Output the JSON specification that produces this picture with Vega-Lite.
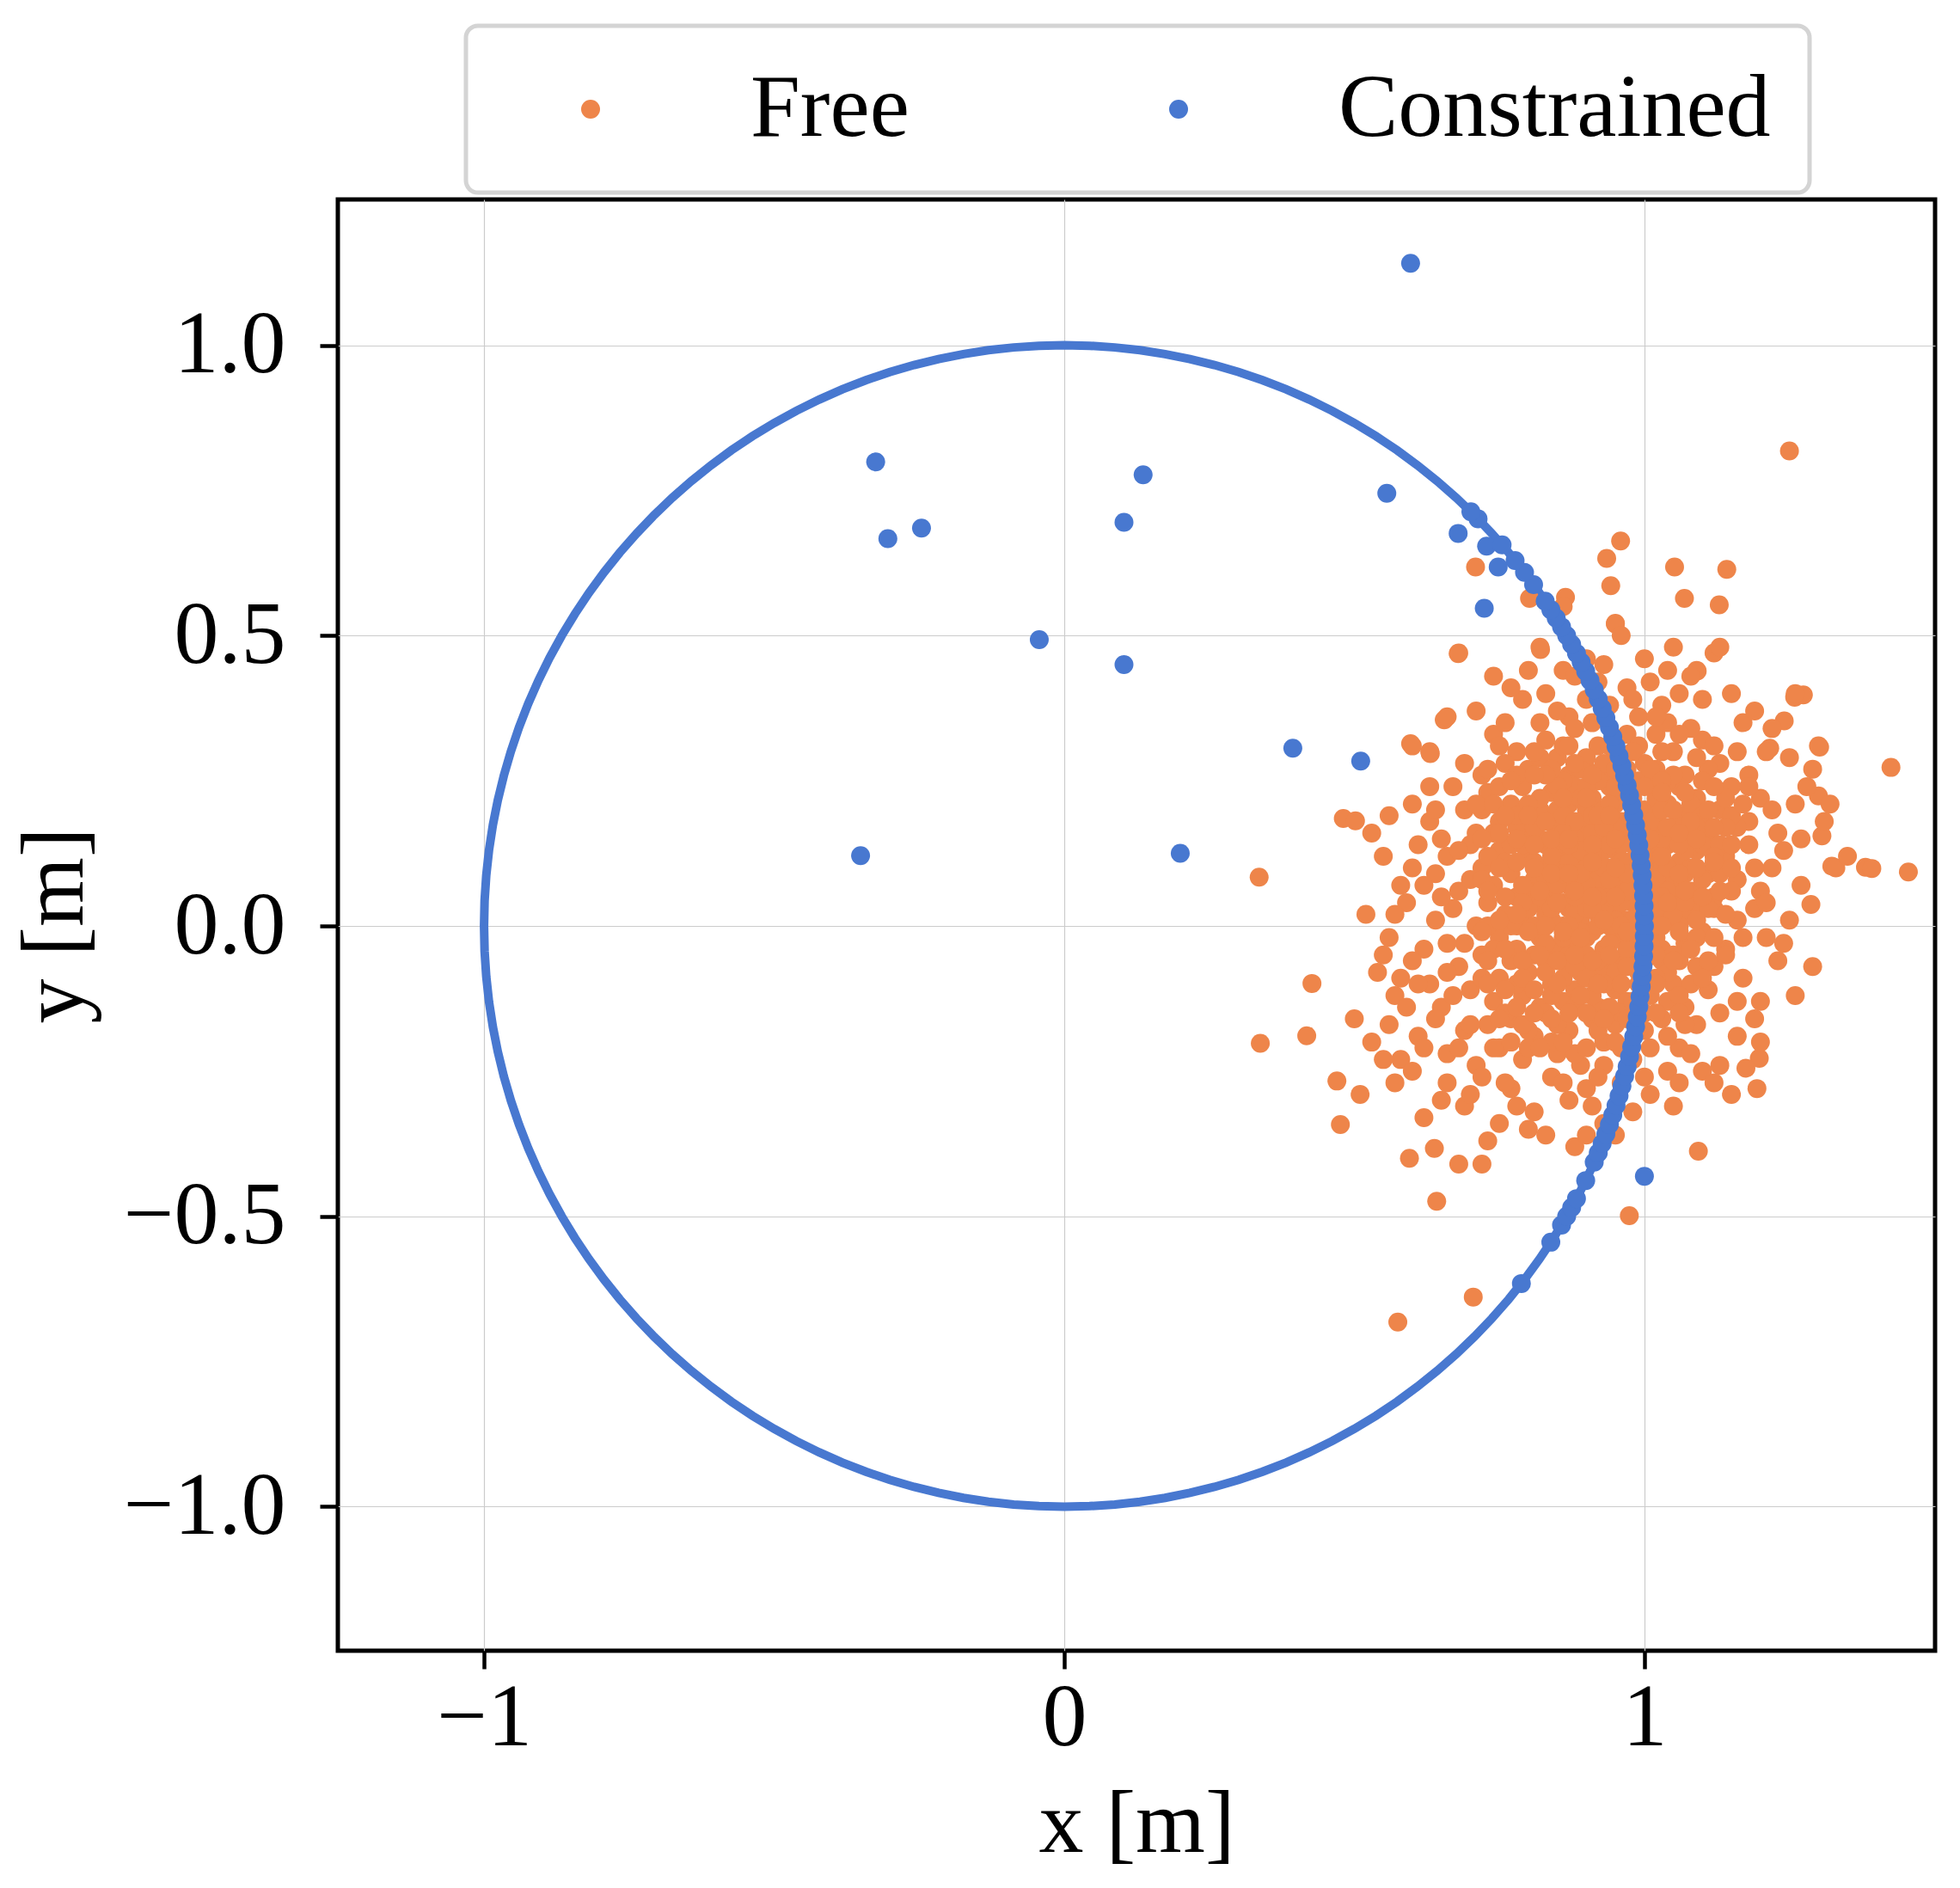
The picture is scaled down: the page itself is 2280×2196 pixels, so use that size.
{
  "$schema": "https://vega.github.io/schema/vega-lite/v6.json",
  "width": 1858,
  "height": 1688,
  "autosize": "none",
  "padding": {"left": 393, "top": 232, "right": 29, "bottom": 276},
  "background": "white",
  "datasets": {
    "circle": [
      {"a":0,"x":1,"y":0},{"a":2.5,"x":0.99905,"y":0.04362},{"a":5,"x":0.99619,"y":0.08716},{"a":7.5,"x":0.99144,"y":0.13053},
      {"a":10,"x":0.98481,"y":0.17365},{"a":12.5,"x":0.9763,"y":0.21644},{"a":15,"x":0.96593,"y":0.25882},{"a":17.5,"x":0.95372,"y":0.30071},
      {"a":20,"x":0.93969,"y":0.34202},{"a":22.5,"x":0.92388,"y":0.38268},{"a":25,"x":0.90631,"y":0.42262},{"a":27.5,"x":0.88701,"y":0.46175},
      {"a":30,"x":0.86603,"y":0.5},{"a":32.5,"x":0.84339,"y":0.5373},{"a":35,"x":0.81915,"y":0.57358},{"a":37.5,"x":0.79335,"y":0.60876},
      {"a":40,"x":0.76604,"y":0.64279},{"a":42.5,"x":0.73728,"y":0.67559},{"a":45,"x":0.70711,"y":0.70711},{"a":47.5,"x":0.67559,"y":0.73728},
      {"a":50,"x":0.64279,"y":0.76604},{"a":52.5,"x":0.60876,"y":0.79335},{"a":55,"x":0.57358,"y":0.81915},{"a":57.5,"x":0.5373,"y":0.84339},
      {"a":60,"x":0.5,"y":0.86603},{"a":62.5,"x":0.46175,"y":0.88701},{"a":65,"x":0.42262,"y":0.90631},{"a":67.5,"x":0.38268,"y":0.92388},
      {"a":70,"x":0.34202,"y":0.93969},{"a":72.5,"x":0.30071,"y":0.95372},{"a":75,"x":0.25882,"y":0.96593},{"a":77.5,"x":0.21644,"y":0.9763},
      {"a":80,"x":0.17365,"y":0.98481},{"a":82.5,"x":0.13053,"y":0.99144},{"a":85,"x":0.08716,"y":0.99619},{"a":87.5,"x":0.04362,"y":0.99905},
      {"a":90,"x":0,"y":1},{"a":92.5,"x":-0.04362,"y":0.99905},{"a":95,"x":-0.08716,"y":0.99619},{"a":97.5,"x":-0.13053,"y":0.99144},
      {"a":100,"x":-0.17365,"y":0.98481},{"a":102.5,"x":-0.21644,"y":0.9763},{"a":105,"x":-0.25882,"y":0.96593},{"a":107.5,"x":-0.30071,"y":0.95372},
      {"a":110,"x":-0.34202,"y":0.93969},{"a":112.5,"x":-0.38268,"y":0.92388},{"a":115,"x":-0.42262,"y":0.90631},{"a":117.5,"x":-0.46175,"y":0.88701},
      {"a":120,"x":-0.5,"y":0.86603},{"a":122.5,"x":-0.5373,"y":0.84339},{"a":125,"x":-0.57358,"y":0.81915},{"a":127.5,"x":-0.60876,"y":0.79335},
      {"a":130,"x":-0.64279,"y":0.76604},{"a":132.5,"x":-0.67559,"y":0.73728},{"a":135,"x":-0.70711,"y":0.70711},{"a":137.5,"x":-0.73728,"y":0.67559},
      {"a":140,"x":-0.76604,"y":0.64279},{"a":142.5,"x":-0.79335,"y":0.60876},{"a":145,"x":-0.81915,"y":0.57358},{"a":147.5,"x":-0.84339,"y":0.5373},
      {"a":150,"x":-0.86603,"y":0.5},{"a":152.5,"x":-0.88701,"y":0.46175},{"a":155,"x":-0.90631,"y":0.42262},{"a":157.5,"x":-0.92388,"y":0.38268},
      {"a":160,"x":-0.93969,"y":0.34202},{"a":162.5,"x":-0.95372,"y":0.30071},{"a":165,"x":-0.96593,"y":0.25882},{"a":167.5,"x":-0.9763,"y":0.21644},
      {"a":170,"x":-0.98481,"y":0.17365},{"a":172.5,"x":-0.99144,"y":0.13053},{"a":175,"x":-0.99619,"y":0.08716},{"a":177.5,"x":-0.99905,"y":0.04362},
      {"a":180,"x":-1,"y":0},{"a":182.5,"x":-0.99905,"y":-0.04362},{"a":185,"x":-0.99619,"y":-0.08716},{"a":187.5,"x":-0.99144,"y":-0.13053},
      {"a":190,"x":-0.98481,"y":-0.17365},{"a":192.5,"x":-0.9763,"y":-0.21644},{"a":195,"x":-0.96593,"y":-0.25882},{"a":197.5,"x":-0.95372,"y":-0.30071},
      {"a":200,"x":-0.93969,"y":-0.34202},{"a":202.5,"x":-0.92388,"y":-0.38268},{"a":205,"x":-0.90631,"y":-0.42262},{"a":207.5,"x":-0.88701,"y":-0.46175},
      {"a":210,"x":-0.86603,"y":-0.5},{"a":212.5,"x":-0.84339,"y":-0.5373},{"a":215,"x":-0.81915,"y":-0.57358},{"a":217.5,"x":-0.79335,"y":-0.60876},
      {"a":220,"x":-0.76604,"y":-0.64279},{"a":222.5,"x":-0.73728,"y":-0.67559},{"a":225,"x":-0.70711,"y":-0.70711},{"a":227.5,"x":-0.67559,"y":-0.73728},
      {"a":230,"x":-0.64279,"y":-0.76604},{"a":232.5,"x":-0.60876,"y":-0.79335},{"a":235,"x":-0.57358,"y":-0.81915},{"a":237.5,"x":-0.5373,"y":-0.84339},
      {"a":240,"x":-0.5,"y":-0.86603},{"a":242.5,"x":-0.46175,"y":-0.88701},{"a":245,"x":-0.42262,"y":-0.90631},{"a":247.5,"x":-0.38268,"y":-0.92388},
      {"a":250,"x":-0.34202,"y":-0.93969},{"a":252.5,"x":-0.30071,"y":-0.95372},{"a":255,"x":-0.25882,"y":-0.96593},{"a":257.5,"x":-0.21644,"y":-0.9763},
      {"a":260,"x":-0.17365,"y":-0.98481},{"a":262.5,"x":-0.13053,"y":-0.99144},{"a":265,"x":-0.08716,"y":-0.99619},{"a":267.5,"x":-0.04362,"y":-0.99905},
      {"a":270,"x":0,"y":-1},{"a":272.5,"x":0.04362,"y":-0.99905},{"a":275,"x":0.08716,"y":-0.99619},{"a":277.5,"x":0.13053,"y":-0.99144},
      {"a":280,"x":0.17365,"y":-0.98481},{"a":282.5,"x":0.21644,"y":-0.9763},{"a":285,"x":0.25882,"y":-0.96593},{"a":287.5,"x":0.30071,"y":-0.95372},
      {"a":290,"x":0.34202,"y":-0.93969},{"a":292.5,"x":0.38268,"y":-0.92388},{"a":295,"x":0.42262,"y":-0.90631},{"a":297.5,"x":0.46175,"y":-0.88701},
      {"a":300,"x":0.5,"y":-0.86603},{"a":302.5,"x":0.5373,"y":-0.84339},{"a":305,"x":0.57358,"y":-0.81915},{"a":307.5,"x":0.60876,"y":-0.79335},
      {"a":310,"x":0.64279,"y":-0.76604},{"a":312.5,"x":0.67559,"y":-0.73728},{"a":315,"x":0.70711,"y":-0.70711},{"a":317.5,"x":0.73728,"y":-0.67559},
      {"a":320,"x":0.76604,"y":-0.64279},{"a":322.5,"x":0.79335,"y":-0.60876},{"a":325,"x":0.81915,"y":-0.57358},{"a":327.5,"x":0.84339,"y":-0.5373},
      {"a":330,"x":0.86603,"y":-0.5},{"a":332.5,"x":0.88701,"y":-0.46175},{"a":335,"x":0.90631,"y":-0.42262},{"a":337.5,"x":0.92388,"y":-0.38268},
      {"a":340,"x":0.93969,"y":-0.34202},{"a":342.5,"x":0.95372,"y":-0.30071},{"a":345,"x":0.96593,"y":-0.25882},{"a":347.5,"x":0.9763,"y":-0.21644},
      {"a":350,"x":0.98481,"y":-0.17365},{"a":352.5,"x":0.99144,"y":-0.13053},{"a":355,"x":0.99619,"y":-0.08716},{"a":357.5,"x":0.99905,"y":-0.04362},
      {"a":360,"x":1,"y":0}
    ],
    "pts": [
      {"s":"Free","x":1.25,"y":0.818},{"s":"Free","x":1.425,"y":0.273},{"s":"Free","x":1.455,"y":0.093},{"s":"Free","x":1.381,"y":0.101},
      {"s":"Free","x":1.392,"y":0.099},{"s":"Free","x":1.287,"y":0.037},{"s":"Free","x":1.323,"y":0.103},{"s":"Free","x":0.336,"y":0.084},
      {"s":"Free","x":0.338,"y":-0.202},{"s":"Free","x":0.427,"y":-0.099},{"s":"Free","x":0.418,"y":-0.189},{"s":"Free","x":0.481,"y":0.185},
      {"s":"Free","x":0.502,"y":0.181},{"s":"Free","x":0.47,"y":-0.267},{"s":"Free","x":0.476,"y":-0.342},{"s":"Free","x":0.575,"y":-0.682},
      {"s":"Free","x":0.705,"y":-0.639},{"s":"Free","x":0.642,"y":-0.474},{"s":"Free","x":0.595,"y":-0.4},{"s":"Free","x":0.638,"y":-0.383},
      {"s":"Free","x":0.974,"y":-0.499},{"s":"Free","x":1.093,"y":-0.388},{"s":"Free","x":0.959,"y":0.663},{"s":"Free","x":0.935,"y":0.633},
      {"s":"Free","x":0.942,"y":0.586},{"s":"Free","x":0.709,"y":0.618},{"s":"Free","x":0.679,"y":0.469},{"s":"Free","x":1.052,"y":0.618},
      {"s":"Free","x":1.069,"y":0.564},{"s":"Free","x":1.129,"y":0.553},{"s":"Free","x":0.95,"y":0.521},{"s":"Free","x":0.821,"y":0.476},
      {"s":"Free","x":0.864,"y":0.566},{"s":"Free","x":0.802,"y":0.564},{"s":"Free","x":0.597,"y":0.314},{"s":"Free","x":0.631,"y":0.297},
      {"s":"Free","x":0.655,"y":0.355},{"s":"Free","x":1.198,"y":-0.228},{"s":"Free","x":1.194,"y":-0.28},{"s":"Free","x":1.175,"y":-0.245},
      {"s":"Free","x":1.216,"y":0.306},{"s":"Free","x":1.302,"y":0.308},{"s":"Free","x":1.274,"y":0.398},{"s":"Free","x":1.259,"y":0.394},
      {"s":"Free","x":1.241,"y":0.353},{"s":"Free","x":1.3,"y":0.224},{"s":"Free","x":1.306,"y":0.155},{"s":"Free","x":1.142,"y":0.614},
      {"s":"Free","x":1.091,"y":0.439},
      {"s":"Free","x":0.82,"y":0.48},{"s":"Free","x":0.86,"y":0.55},{"s":"Free","x":0.95,"y":0.52},{"s":"Free","x":1.0,"y":0.46},
      {"s":"Free","x":1.05,"y":0.48},{"s":"Free","x":0.68,"y":0.47},{"s":"Free","x":0.96,"y":0.5},{"s":"Free","x":1.09,"y":0.44},
      {"s":"Free","x":1.12,"y":0.47},{"s":"Free","x":1.13,"y":0.48},{"s":"Free","x":0.9,"y":0.46},
      {"s":"Free","x":0.74,"y":0.43},{"s":"Free","x":0.79,"y":0.39},{"s":"Free","x":0.83,"y":0.4},{"s":"Free","x":0.87,"y":0.36},
      {"s":"Free","x":0.92,"y":0.42},{"s":"Free","x":0.97,"y":0.41},{"s":"Free","x":1.01,"y":0.42},{"s":"Free","x":1.03,"y":0.38},
      {"s":"Free","x":1.06,"y":0.4},{"s":"Free","x":1.1,"y":0.39},{"s":"Free","x":1.17,"y":0.35},{"s":"Free","x":1.19,"y":0.37},
      {"s":"Free","x":1.26,"y":0.4},{"s":"Free","x":0.94,"y":0.38},{"s":"Free","x":0.99,"y":0.36},{"s":"Free","x":0.86,"y":0.44},
      {"s":"Free","x":0.71,"y":0.37},{"s":"Free","x":1.04,"y":0.44},{"s":"Free","x":0.77,"y":0.41},{"s":"Free","x":0.9,"y":0.39},
      {"s":"Free","x":0.6,"y":0.31},{"s":"Free","x":0.63,"y":0.3},{"s":"Free","x":0.66,"y":0.36},{"s":"Free","x":0.72,"y":0.26},
      {"s":"Free","x":0.74,"y":0.33},{"s":"Free","x":0.78,"y":0.3},{"s":"Free","x":0.8,"y":0.27},{"s":"Free","x":0.83,"y":0.32},
      {"s":"Free","x":0.85,"y":0.29},{"s":"Free","x":0.88,"y":0.34},{"s":"Free","x":0.9,"y":0.27},{"s":"Free","x":0.92,"y":0.31},
      {"s":"Free","x":0.95,"y":0.29},{"s":"Free","x":0.97,"y":0.33},{"s":"Free","x":1.0,"y":0.28},{"s":"Free","x":1.02,"y":0.33},
      {"s":"Free","x":1.05,"y":0.3},{"s":"Free","x":1.07,"y":0.26},{"s":"Free","x":1.1,"y":0.32},{"s":"Free","x":1.13,"y":0.28},
      {"s":"Free","x":1.16,"y":0.3},{"s":"Free","x":1.21,"y":0.3},{"s":"Free","x":1.25,"y":0.29},{"s":"Free","x":1.3,"y":0.31},
      {"s":"Free","x":1.29,"y":0.27},{"s":"Free","x":0.87,"y":0.26},{"s":"Free","x":0.94,"y":0.26},{"s":"Free","x":1.04,"y":0.35},
      {"s":"Free","x":0.82,"y":0.35},{"s":"Free","x":0.76,"y":0.28},{"s":"Free","x":1.08,"y":0.34},{"s":"Free","x":1.18,"y":0.26},
      {"s":"Free","x":0.99,"y":0.31},{"s":"Free","x":0.91,"y":0.35},
      {"s":"Free","x":0.53,"y":0.16},{"s":"Free","x":0.56,"y":0.19},{"s":"Free","x":0.6,"y":0.21},{"s":"Free","x":0.63,"y":0.18},
      {"s":"Free","x":0.67,"y":0.24},{"s":"Free","x":0.69,"y":0.2},{"s":"Free","x":0.71,"y":0.16},{"s":"Free","x":0.73,"y":0.23},
      {"s":"Free","x":0.75,"y":0.18},{"s":"Free","x":0.77,"y":0.21},{"s":"Free","x":0.79,"y":0.24},{"s":"Free","x":0.8,"y":0.16},
      {"s":"Free","x":0.82,"y":0.2},{"s":"Free","x":0.84,"y":0.23},{"s":"Free","x":0.85,"y":0.17},{"s":"Free","x":0.87,"y":0.21},
      {"s":"Free","x":0.88,"y":0.24},{"s":"Free","x":0.89,"y":0.18},{"s":"Free","x":0.91,"y":0.22},{"s":"Free","x":0.92,"y":0.16},
      {"s":"Free","x":0.93,"y":0.2},{"s":"Free","x":0.94,"y":0.24},{"s":"Free","x":0.96,"y":0.18},{"s":"Free","x":0.97,"y":0.22},
      {"s":"Free","x":0.98,"y":0.16},{"s":"Free","x":1.0,"y":0.2},{"s":"Free","x":1.01,"y":0.24},{"s":"Free","x":1.03,"y":0.17},
      {"s":"Free","x":1.04,"y":0.21},{"s":"Free","x":1.06,"y":0.24},{"s":"Free","x":1.07,"y":0.18},{"s":"Free","x":1.09,"y":0.22},
      {"s":"Free","x":1.11,"y":0.16},{"s":"Free","x":1.13,"y":0.2},{"s":"Free","x":1.15,"y":0.24},{"s":"Free","x":1.18,"y":0.18},
      {"s":"Free","x":1.2,"y":0.22},{"s":"Free","x":1.23,"y":0.16},{"s":"Free","x":1.26,"y":0.21},{"s":"Free","x":1.31,"y":0.18},
      {"s":"Free","x":0.65,"y":0.15},{"s":"Free","x":0.72,"y":0.2},{"s":"Free","x":0.9,"y":0.17},{"s":"Free","x":0.95,"y":0.21},
      {"s":"Free","x":1.02,"y":0.19},{"s":"Free","x":1.08,"y":0.15},{"s":"Free","x":0.86,"y":0.25},{"s":"Free","x":0.99,"y":0.25},
      {"s":"Free","x":0.78,"y":0.17},{"s":"Free","x":1.16,"y":0.17},
      {"s":"Free","x":0.55,"y":0.12},{"s":"Free","x":0.58,"y":0.07},{"s":"Free","x":0.61,"y":0.14},{"s":"Free","x":0.64,"y":0.09},
      {"s":"Free","x":0.66,"y":0.12},{"s":"Free","x":0.68,"y":0.06},{"s":"Free","x":0.7,"y":0.14},{"s":"Free","x":0.72,"y":0.1},
      {"s":"Free","x":0.74,"y":0.07},{"s":"Free","x":0.75,"y":0.13},{"s":"Free","x":0.77,"y":0.09},{"s":"Free","x":0.78,"y":0.05},
      {"s":"Free","x":0.8,"y":0.12},{"s":"Free","x":0.81,"y":0.08},{"s":"Free","x":0.83,"y":0.14},{"s":"Free","x":0.84,"y":0.06},
      {"s":"Free","x":0.85,"y":0.1},{"s":"Free","x":0.86,"y":0.13},{"s":"Free","x":0.87,"y":0.07},{"s":"Free","x":0.88,"y":0.11},
      {"s":"Free","x":0.89,"y":0.05},{"s":"Free","x":0.9,"y":0.14},{"s":"Free","x":0.91,"y":0.09},{"s":"Free","x":0.92,"y":0.12},
      {"s":"Free","x":0.93,"y":0.06},{"s":"Free","x":0.94,"y":0.1},{"s":"Free","x":0.95,"y":0.13},{"s":"Free","x":0.96,"y":0.07},
      {"s":"Free","x":0.97,"y":0.11},{"s":"Free","x":0.98,"y":0.14},{"s":"Free","x":0.99,"y":0.05},{"s":"Free","x":1.0,"y":0.09},
      {"s":"Free","x":1.01,"y":0.12},{"s":"Free","x":1.02,"y":0.06},{"s":"Free","x":1.03,"y":0.1},{"s":"Free","x":1.04,"y":0.14},
      {"s":"Free","x":1.05,"y":0.08},{"s":"Free","x":1.06,"y":0.11},{"s":"Free","x":1.08,"y":0.06},{"s":"Free","x":1.09,"y":0.13},
      {"s":"Free","x":1.11,"y":0.09},{"s":"Free","x":1.12,"y":0.05},{"s":"Free","x":1.14,"y":0.12},{"s":"Free","x":1.16,"y":0.08},
      {"s":"Free","x":1.18,"y":0.14},{"s":"Free","x":1.2,"y":0.06},{"s":"Free","x":1.22,"y":0.1},{"s":"Free","x":1.24,"y":0.13},
      {"s":"Free","x":1.27,"y":0.07},{"s":"Free","x":1.33,"y":0.1},{"s":"Free","x":0.82,"y":0.1},{"s":"Free","x":0.88,"y":0.08},
      {"s":"Free","x":0.93,"y":0.13},{"s":"Free","x":0.96,"y":0.09},{"s":"Free","x":1.0,"y":0.06},{"s":"Free","x":1.07,"y":0.13},
      {"s":"Free","x":0.79,"y":0.14},{"s":"Free","x":0.73,"y":0.12},{"s":"Free","x":0.91,"y":0.06},{"s":"Free","x":0.98,"y":0.11},
      {"s":"Free","x":1.13,"y":0.09},
      {"s":"Free","x":0.52,"y":0.02},{"s":"Free","x":0.56,"y":-0.02},{"s":"Free","x":0.59,"y":0.04},{"s":"Free","x":0.62,"y":-0.04},
      {"s":"Free","x":0.64,"y":0.01},{"s":"Free","x":0.67,"y":0.03},{"s":"Free","x":0.69,"y":-0.03},{"s":"Free","x":0.71,"y":0.0},
      {"s":"Free","x":0.73,"y":0.04},{"s":"Free","x":0.75,"y":-0.02},{"s":"Free","x":0.76,"y":0.02},{"s":"Free","x":0.78,"y":-0.04},
      {"s":"Free","x":0.79,"y":0.01},{"s":"Free","x":0.81,"y":0.04},{"s":"Free","x":0.82,"y":-0.02},{"s":"Free","x":0.83,"y":0.02},
      {"s":"Free","x":0.85,"y":-0.04},{"s":"Free","x":0.86,"y":0.0},{"s":"Free","x":0.87,"y":0.03},{"s":"Free","x":0.88,"y":-0.03},
      {"s":"Free","x":0.89,"y":0.01},{"s":"Free","x":0.9,"y":0.04},{"s":"Free","x":0.91,"y":-0.01},{"s":"Free","x":0.92,"y":0.02},
      {"s":"Free","x":0.93,"y":-0.04},{"s":"Free","x":0.94,"y":0.0},{"s":"Free","x":0.95,"y":0.03},{"s":"Free","x":0.96,"y":-0.02},
      {"s":"Free","x":0.97,"y":0.01},{"s":"Free","x":0.98,"y":0.04},{"s":"Free","x":0.99,"y":-0.03},{"s":"Free","x":1.0,"y":0.0},
      {"s":"Free","x":1.01,"y":0.03},{"s":"Free","x":1.02,"y":-0.02},{"s":"Free","x":1.04,"y":0.01},{"s":"Free","x":1.05,"y":0.04},
      {"s":"Free","x":1.07,"y":-0.03},{"s":"Free","x":1.08,"y":0.02},{"s":"Free","x":1.1,"y":-0.01},{"s":"Free","x":1.12,"y":0.03},
      {"s":"Free","x":1.14,"y":-0.04},{"s":"Free","x":1.16,"y":0.01},{"s":"Free","x":1.19,"y":0.03},{"s":"Free","x":1.21,"y":-0.02},
      {"s":"Free","x":1.25,"y":0.01},{"s":"Free","x":0.84,"y":0.01},{"s":"Free","x":0.9,"y":-0.02},{"s":"Free","x":0.95,"y":0.01},
      {"s":"Free","x":1.03,"y":0.03},{"s":"Free","x":0.77,"y":0.0},{"s":"Free","x":0.74,"y":-0.04},
      {"s":"Free","x":0.54,"y":-0.08},{"s":"Free","x":0.57,"y":-0.12},{"s":"Free","x":0.6,"y":-0.06},{"s":"Free","x":0.63,"y":-0.1},
      {"s":"Free","x":0.65,"y":-0.14},{"s":"Free","x":0.68,"y":-0.07},{"s":"Free","x":0.7,"y":-0.11},{"s":"Free","x":0.72,"y":-0.05},
      {"s":"Free","x":0.74,"y":-0.13},{"s":"Free","x":0.75,"y":-0.09},{"s":"Free","x":0.77,"y":-0.06},{"s":"Free","x":0.79,"y":-0.12},
      {"s":"Free","x":0.8,"y":-0.08},{"s":"Free","x":0.82,"y":-0.14},{"s":"Free","x":0.83,"y":-0.06},{"s":"Free","x":0.84,"y":-0.1},
      {"s":"Free","x":0.86,"y":-0.13},{"s":"Free","x":0.87,"y":-0.07},{"s":"Free","x":0.88,"y":-0.11},{"s":"Free","x":0.9,"y":-0.05},
      {"s":"Free","x":0.91,"y":-0.09},{"s":"Free","x":0.92,"y":-0.14},{"s":"Free","x":0.93,"y":-0.07},{"s":"Free","x":0.95,"y":-0.11},
      {"s":"Free","x":0.96,"y":-0.06},{"s":"Free","x":0.97,"y":-0.13},{"s":"Free","x":0.99,"y":-0.08},{"s":"Free","x":1.01,"y":-0.12},
      {"s":"Free","x":1.03,"y":-0.06},{"s":"Free","x":1.05,"y":-0.1},{"s":"Free","x":1.07,"y":-0.14},{"s":"Free","x":1.09,"y":-0.07},
      {"s":"Free","x":1.11,"y":-0.11},{"s":"Free","x":1.14,"y":-0.05},{"s":"Free","x":1.17,"y":-0.09},{"s":"Free","x":1.2,"y":-0.13},
      {"s":"Free","x":1.23,"y":-0.06},{"s":"Free","x":0.58,"y":-0.09},{"s":"Free","x":0.66,"y":-0.08},{"s":"Free","x":0.78,"y":-0.1},
      {"s":"Free","x":0.89,"y":-0.08},{"s":"Free","x":0.94,"y":-0.1},{"s":"Free","x":1.0,"y":-0.06},
      {"s":"Free","x":0.5,"y":-0.16},{"s":"Free","x":0.53,"y":-0.2},{"s":"Free","x":0.56,"y":-0.17},{"s":"Free","x":0.58,"y":-0.23},
      {"s":"Free","x":0.61,"y":-0.19},{"s":"Free","x":0.64,"y":-0.16},{"s":"Free","x":0.66,"y":-0.22},{"s":"Free","x":0.69,"y":-0.18},
      {"s":"Free","x":0.71,"y":-0.24},{"s":"Free","x":0.73,"y":-0.17},{"s":"Free","x":0.75,"y":-0.21},{"s":"Free","x":0.77,"y":-0.16},
      {"s":"Free","x":0.79,"y":-0.23},{"s":"Free","x":0.81,"y":-0.19},{"s":"Free","x":0.83,"y":-0.15},{"s":"Free","x":0.85,"y":-0.22},
      {"s":"Free","x":0.87,"y":-0.18},{"s":"Free","x":0.89,"y":-0.24},{"s":"Free","x":0.91,"y":-0.16},{"s":"Free","x":0.93,"y":-0.2},
      {"s":"Free","x":0.95,"y":-0.17},{"s":"Free","x":0.98,"y":-0.23},{"s":"Free","x":1.0,"y":-0.18},{"s":"Free","x":1.03,"y":-0.16},
      {"s":"Free","x":1.06,"y":-0.21},{"s":"Free","x":1.09,"y":-0.17},{"s":"Free","x":1.13,"y":-0.24},{"s":"Free","x":1.16,"y":-0.19},
      {"s":"Free","x":1.19,"y":-0.16},{"s":"Free","x":0.55,"y":-0.23},{"s":"Free","x":0.68,"y":-0.21},{"s":"Free","x":0.8,"y":-0.21},
      {"s":"Free","x":0.93,"y":-0.24},{"s":"Free","x":1.04,"y":-0.25},{"s":"Free","x":1.1,"y":-0.25},
      {"s":"Free","x":0.51,"y":-0.29},{"s":"Free","x":0.57,"y":-0.27},{"s":"Free","x":0.62,"y":-0.33},{"s":"Free","x":0.66,"y":-0.27},
      {"s":"Free","x":0.69,"y":-0.31},{"s":"Free","x":0.72,"y":-0.26},{"s":"Free","x":0.75,"y":-0.34},{"s":"Free","x":0.77,"y":-0.28},
      {"s":"Free","x":0.81,"y":-0.32},{"s":"Free","x":0.84,"y":-0.26},{"s":"Free","x":0.87,"y":-0.3},{"s":"Free","x":0.9,"y":-0.28},
      {"s":"Free","x":0.93,"y":-0.34},{"s":"Free","x":0.96,"y":-0.27},{"s":"Free","x":1.01,"y":-0.29},{"s":"Free","x":1.06,"y":-0.27},
      {"s":"Free","x":1.12,"y":-0.27},{"s":"Free","x":0.7,"y":-0.29},{"s":"Free","x":0.76,"y":-0.27},{"s":"Free","x":0.92,"y":-0.26},
      {"s":"Free","x":0.98,"y":-0.32},
      {"s":"Free","x":0.68,"y":-0.41},{"s":"Free","x":0.72,"y":-0.41},{"s":"Free","x":0.8,"y":-0.35},{"s":"Free","x":0.88,"y":-0.38},
      {"s":"Free","x":0.9,"y":-0.36},{"s":"Free","x":0.73,"y":-0.37},
      {"s":"Free","x":0.86,"y":0.04},{"s":"Free","x":0.88,"y":0.15},{"s":"Free","x":0.9,"y":0.1},{"s":"Free","x":0.92,"y":0.0},
      {"s":"Free","x":0.94,"y":0.18},{"s":"Free","x":0.96,"y":0.04},{"s":"Free","x":0.98,"y":-0.05},{"s":"Free","x":1.0,"y":0.15},
      {"s":"Free","x":1.02,"y":0.08},{"s":"Free","x":0.84,"y":0.18},{"s":"Free","x":0.87,"y":-0.05},{"s":"Free","x":0.89,"y":0.22},
      {"s":"Free","x":0.91,"y":0.12},{"s":"Free","x":0.93,"y":0.26},{"s":"Free","x":0.95,"y":-0.08},{"s":"Free","x":0.97,"y":0.16},
      {"s":"Free","x":0.99,"y":0.02},{"s":"Free","x":1.01,"y":0.18},{"s":"Free","x":1.03,"y":-0.04},{"s":"Free","x":1.05,"y":0.16},
      {"s":"Free","x":0.83,"y":0.08},{"s":"Free","x":0.85,"y":0.14},{"s":"Free","x":0.86,"y":-0.09},{"s":"Free","x":0.88,"y":0.02},
      {"s":"Free","x":0.9,"y":0.2},{"s":"Free","x":0.92,"y":0.08},{"s":"Free","x":0.94,"y":-0.03},{"s":"Free","x":0.96,"y":0.14},
      {"s":"Free","x":0.98,"y":0.08},{"s":"Free","x":1.0,"y":-0.1},{"s":"Free","x":1.02,"y":0.13},{"s":"Free","x":1.04,"y":0.06},
      {"s":"Free","x":0.81,"y":0.0},{"s":"Free","x":0.83,"y":-0.08},{"s":"Free","x":0.87,"y":0.11},{"s":"Free","x":0.89,"y":-0.01},
      {"s":"Free","x":0.91,"y":0.16},{"s":"Free","x":0.93,"y":0.03},{"s":"Free","x":0.95,"y":0.07},{"s":"Free","x":0.97,"y":-0.04},
      {"s":"Free","x":0.99,"y":0.2},{"s":"Free","x":1.01,"y":0.07},{"s":"Free","x":1.06,"y":0.0},{"s":"Free","x":0.8,"y":0.06},
      {"s":"Free","x":0.82,"y":0.22},{"s":"Free","x":0.85,"y":0.07},{"s":"Free","x":0.88,"y":-0.14},{"s":"Free","x":0.94,"y":0.14},
      {"s":"Free","x":0.97,"y":0.27},{"s":"Free","x":1.04,"y":-0.08},
      {"s":"Free","x":0.76,"y":0.11},{"s":"Free","x":0.78,"y":0.19},{"s":"Free","x":0.8,"y":0.03},{"s":"Free","x":0.81,"y":-0.05},
      {"s":"Free","x":0.82,"y":0.15},{"s":"Free","x":0.84,"y":-0.12},{"s":"Free","x":0.85,"y":0.24},{"s":"Free","x":0.86,"y":0.09},
      {"s":"Free","x":0.87,"y":0.17},{"s":"Free","x":0.88,"y":-0.07},{"s":"Free","x":0.89,"y":0.13},{"s":"Free","x":0.9,"y":0.03},
      {"s":"Free","x":0.91,"y":-0.12},{"s":"Free","x":0.92,"y":0.25},{"s":"Free","x":0.93,"y":0.1},{"s":"Free","x":0.94,"y":0.05},
      {"s":"Free","x":0.95,"y":0.17},{"s":"Free","x":0.96,"y":-0.15},{"s":"Free","x":0.97,"y":0.06},{"s":"Free","x":0.98,"y":0.19},
      {"s":"Free","x":0.99,"y":-0.1},{"s":"Free","x":1.0,"y":0.12},{"s":"Free","x":1.01,"y":-0.03},{"s":"Free","x":1.02,"y":0.22},
      {"s":"Free","x":1.03,"y":0.15},{"s":"Free","x":1.04,"y":-0.13},{"s":"Free","x":1.05,"y":0.02},{"s":"Free","x":1.06,"y":0.19},
      {"s":"Free","x":1.07,"y":0.09},{"s":"Free","x":1.08,"y":-0.1},{"s":"Free","x":1.09,"y":0.04},{"s":"Free","x":1.1,"y":0.14},
      {"s":"Free","x":1.11,"y":0.27},{"s":"Free","x":1.12,"y":-0.07},{"s":"Free","x":1.13,"y":0.14},{"s":"Free","x":1.14,"y":0.02},
      {"s":"Free","x":1.15,"y":0.19},{"s":"Free","x":1.17,"y":-0.02},{"s":"Free","x":1.19,"y":0.1},{"s":"Free","x":1.21,"y":0.04},
      {"s":"Free","x":0.72,"y":-0.09},{"s":"Free","x":0.74,"y":0.16},{"s":"Free","x":0.76,"y":-0.15},{"s":"Free","x":0.78,"y":0.26},
      {"s":"Free","x":0.8,"y":-0.18},{"s":"Free","x":0.82,"y":0.29},{"s":"Free","x":0.84,"y":-0.2},{"s":"Free","x":0.86,"y":0.31},
      {"s":"Free","x":0.88,"y":-0.22},{"s":"Free","x":0.9,"y":0.29},{"s":"Free","x":0.92,"y":-0.18},{"s":"Free","x":0.94,"y":0.31},
      {"s":"Free","x":0.96,"y":-0.21},{"s":"Free","x":0.98,"y":0.3},{"s":"Free","x":1.0,"y":-0.15},{"s":"Free","x":1.02,"y":0.27},
      {"s":"Free","x":1.04,"y":-0.19},{"s":"Free","x":1.06,"y":0.33},{"s":"Free","x":1.08,"y":-0.22},{"s":"Free","x":1.1,"y":0.25},
      {"s":"Free","x":0.7,"y":0.08},{"s":"Free","x":0.69,"y":0.28},{"s":"Free","x":0.67,"y":-0.12},{"s":"Free","x":0.65,"y":0.05},
      {"s":"Free","x":0.63,"y":0.24},{"s":"Free","x":0.62,"y":-0.21},{"s":"Free","x":0.6,"y":0.1},{"s":"Free","x":0.59,"y":-0.14},
      {"s":"Free","x":0.57,"y":0.02},{"s":"Free","x":0.55,"y":-0.05},
      {"s":"Free","x":0.85,"y":0.37},{"s":"Free","x":0.88,"y":0.43},{"s":"Free","x":0.93,"y":0.45},{"s":"Free","x":0.98,"y":0.39},
      {"s":"Free","x":1.02,"y":0.36},{"s":"Free","x":0.8,"y":0.44},{"s":"Free","x":0.76,"y":0.35},{"s":"Free","x":1.08,"y":0.43},
      {"s":"Free","x":1.15,"y":0.4},{"s":"Free","x":1.22,"y":0.34},
      {"s":"Free","x":0.78,"y":-0.31},{"s":"Free","x":0.83,"y":-0.36},{"s":"Free","x":0.86,"y":-0.27},{"s":"Free","x":0.91,"y":-0.31},
      {"s":"Free","x":0.95,"y":-0.36},{"s":"Free","x":1.0,"y":-0.26},{"s":"Free","x":1.05,"y":-0.31},{"s":"Free","x":0.65,"y":-0.3},
      {"s":"Free","x":0.6,"y":-0.25},{"s":"Free","x":1.15,"y":-0.29},
      {"s":"Free","x":1.18,"y":0.24},{"s":"Free","x":1.22,"y":0.2},{"s":"Free","x":1.24,"y":-0.03},{"s":"Free","x":1.27,"y":0.15},
      {"s":"Free","x":1.28,"y":0.24},{"s":"Free","x":1.29,"y":-0.07},{"s":"Free","x":1.32,"y":0.21},{"s":"Free","x":1.35,"y":0.12},
      {"s":"Free","x":1.26,"y":-0.12},{"s":"Free","x":1.2,"y":-0.2},
      {"s":"Free","x":0.79,"y":0.07},{"s":"Free","x":0.81,"y":0.17},{"s":"Free","x":0.83,"y":-0.03},{"s":"Free","x":0.84,"y":0.12},
      {"s":"Free","x":0.85,"y":0.2},{"s":"Free","x":0.86,"y":-0.02},{"s":"Free","x":0.87,"y":0.14},{"s":"Free","x":0.88,"y":0.05},
      {"s":"Free","x":0.89,"y":0.27},{"s":"Free","x":0.9,"y":-0.09},{"s":"Free","x":0.91,"y":0.19},{"s":"Free","x":0.92,"y":0.05},
      {"s":"Free","x":0.93,"y":-0.1},{"s":"Free","x":0.94,"y":0.21},{"s":"Free","x":0.95,"y":0.0},{"s":"Free","x":0.96,"y":0.11},
      {"s":"Free","x":0.97,"y":0.24},{"s":"Free","x":0.98,"y":0.01},{"s":"Free","x":0.99,"y":0.13},{"s":"Free","x":1.0,"y":0.03},
      {"s":"Free","x":1.01,"y":0.27},{"s":"Free","x":1.02,"y":0.0},{"s":"Free","x":1.03,"y":0.2},{"s":"Free","x":1.04,"y":0.1},
      {"s":"Free","x":1.05,"y":-0.05},{"s":"Free","x":1.06,"y":0.14},{"s":"Free","x":1.07,"y":0.04},{"s":"Free","x":1.08,"y":0.21},
      {"s":"Free","x":1.09,"y":-0.02},{"s":"Free","x":1.1,"y":0.08},
      {"s":"Free","x":0.78,"y":0.0},{"s":"Free","x":0.8,"y":0.21},{"s":"Free","x":0.82,"y":0.05},{"s":"Free","x":0.84,"y":0.27},
      {"s":"Free","x":0.86,"y":0.19},{"s":"Free","x":0.88,"y":0.28},{"s":"Free","x":0.9,"y":0.07},{"s":"Free","x":0.92,"y":-0.06},
      {"s":"Free","x":0.94,"y":0.08},{"s":"Free","x":0.96,"y":0.26},{"s":"Free","x":0.98,"y":-0.13},{"s":"Free","x":1.0,"y":0.24},
      {"s":"Free","x":1.02,"y":-0.09},{"s":"Free","x":1.04,"y":0.25},{"s":"Free","x":1.06,"y":-0.06},{"s":"Free","x":1.08,"y":0.1},
      {"s":"Free","x":1.1,"y":0.19},{"s":"Free","x":1.12,"y":0.12},{"s":"Free","x":1.14,"y":0.22},{"s":"Free","x":1.16,"y":-0.13},
      {"s":"Free","x":0.77,"y":0.14},{"s":"Free","x":0.79,"y":-0.17},{"s":"Free","x":0.81,"y":0.11},{"s":"Free","x":0.83,"y":0.26},
      {"s":"Free","x":0.85,"y":-0.17},{"s":"Free","x":0.87,"y":0.0},{"s":"Free","x":0.89,"y":0.09},{"s":"Free","x":0.91,"y":0.03},
      {"s":"Free","x":0.93,"y":0.17},{"s":"Free","x":0.95,"y":0.24},{"s":"Free","x":0.97,"y":0.09},{"s":"Free","x":0.99,"y":-0.18},
      {"s":"Free","x":1.01,"y":0.15},{"s":"Free","x":1.03,"y":0.05},{"s":"Free","x":1.05,"y":0.26},{"s":"Free","x":1.07,"y":-0.17},
      {"s":"Free","x":1.09,"y":0.17},{"s":"Free","x":1.11,"y":0.03},{"s":"Free","x":1.13,"y":-0.15},{"s":"Free","x":1.15,"y":0.06},
      {"s":"Free","x":0.73,"y":0.0},{"s":"Free","x":0.71,"y":0.21},{"s":"Free","x":0.7,"y":-0.17},{"s":"Free","x":0.68,"y":0.13},
      {"s":"Free","x":0.66,"y":-0.03},{"s":"Free","x":0.64,"y":0.2},{"s":"Free","x":0.62,"y":0.07},{"s":"Free","x":0.61,"y":-0.1},
      {"s":"Free","x":0.75,"y":0.24},{"s":"Free","x":0.74,"y":-0.21},
      {"s":"Free","x":0.88,"y":0.18},{"s":"Free","x":0.9,"y":0.24},{"s":"Free","x":0.92,"y":0.19},{"s":"Free","x":0.94,"y":-0.14},
      {"s":"Free","x":0.96,"y":0.0},{"s":"Free","x":0.98,"y":0.22},{"s":"Free","x":1.0,"y":0.1},{"s":"Free","x":1.02,"y":0.03},
      {"s":"Free","x":0.86,"y":0.16},{"s":"Free","x":0.84,"y":0.03},
      {"s":"Free","x":0.75,"y":0.31},{"s":"Free","x":0.81,"y":0.3},{"s":"Free","x":0.87,"y":0.31},{"s":"Free","x":0.93,"y":0.28},
      {"s":"Free","x":1.03,"y":0.3},{"s":"Free","x":1.09,"y":0.29},{"s":"Free","x":1.12,"y":0.31},
      {"s":"Free","x":0.73,"y":0.27},{"s":"Free","x":0.77,"y":0.25},{"s":"Free","x":0.81,"y":0.26},{"s":"Free","x":0.91,"y":0.26},
      {"s":"Free","x":0.95,"y":0.27},{"s":"Free","x":1.03,"y":0.25},{"s":"Free","x":1.07,"y":0.23},{"s":"Free","x":1.12,"y":0.24},
      {"s":"Free","x":1.17,"y":0.21},
      {"s":"Free","x":0.74,"y":0.21},{"s":"Free","x":0.76,"y":0.19},{"s":"Free","x":0.8,"y":0.19},{"s":"Free","x":0.83,"y":0.18},
      {"s":"Free","x":0.86,"y":0.22},{"s":"Free","x":0.9,"y":0.22},{"s":"Free","x":0.94,"y":0.19},{"s":"Free","x":0.99,"y":0.17},
      {"s":"Free","x":1.03,"y":0.23},{"s":"Free","x":1.05,"y":0.2},{"s":"Free","x":1.08,"y":0.18},{"s":"Free","x":1.11,"y":0.2},
      {"s":"Free","x":1.14,"y":0.17},
      {"s":"Free","x":0.72,"y":0.15},{"s":"Free","x":0.75,"y":0.16},{"s":"Free","x":0.78,"y":0.15},{"s":"Free","x":0.81,"y":0.14},
      {"s":"Free","x":0.84,"y":0.15},{"s":"Free","x":0.87,"y":0.15},{"s":"Free","x":0.91,"y":0.14},{"s":"Free","x":0.95,"y":0.15},
      {"s":"Free","x":1.01,"y":0.15},{"s":"Free","x":1.04,"y":0.17},{"s":"Free","x":1.06,"y":0.16},{"s":"Free","x":1.09,"y":0.15},
      {"s":"Free","x":1.12,"y":0.17},{"s":"Free","x":1.15,"y":0.14},
      {"s":"Free","x":0.72,"y":0.08},{"s":"Free","x":0.75,"y":0.1},{"s":"Free","x":0.78,"y":0.11},{"s":"Free","x":0.81,"y":0.1},
      {"s":"Free","x":0.84,"y":0.09},{"s":"Free","x":0.87,"y":0.09},{"s":"Free","x":0.91,"y":0.11},{"s":"Free","x":0.95,"y":0.1},
      {"s":"Free","x":1.03,"y":0.12},{"s":"Free","x":1.06,"y":0.09},{"s":"Free","x":1.09,"y":0.1},{"s":"Free","x":1.12,"y":0.11},
      {"s":"Free","x":1.15,"y":0.1},
      {"s":"Free","x":0.73,"y":0.06},{"s":"Free","x":0.76,"y":0.05},{"s":"Free","x":0.79,"y":0.04},{"s":"Free","x":0.82,"y":0.06},
      {"s":"Free","x":0.85,"y":0.04},{"s":"Free","x":0.88,"y":0.06},{"s":"Free","x":0.91,"y":0.05},{"s":"Free","x":0.95,"y":0.05},
      {"s":"Free","x":1.01,"y":0.05},{"s":"Free","x":1.04,"y":0.04},{"s":"Free","x":1.07,"y":0.06},{"s":"Free","x":1.1,"y":0.05},
      {"s":"Free","x":1.13,"y":0.06},
      {"s":"Free","x":0.72,"y":-0.01},{"s":"Free","x":0.75,"y":0.01},{"s":"Free","x":0.78,"y":0.02},{"s":"Free","x":0.8,"y":-0.01},
      {"s":"Free","x":0.83,"y":0.0},{"s":"Free","x":0.86,"y":-0.01},{"s":"Free","x":0.89,"y":-0.02},{"s":"Free","x":0.93,"y":0.01},
      {"s":"Free","x":0.97,"y":-0.01},{"s":"Free","x":1.03,"y":0.0},{"s":"Free","x":1.06,"y":-0.01},{"s":"Free","x":1.09,"y":0.01},
      {"s":"Free","x":1.12,"y":-0.02},
      {"s":"Free","x":0.73,"y":-0.06},{"s":"Free","x":0.76,"y":-0.04},{"s":"Free","x":0.79,"y":-0.06},{"s":"Free","x":0.82,"y":-0.05},
      {"s":"Free","x":0.85,"y":-0.06},{"s":"Free","x":0.88,"y":-0.05},{"s":"Free","x":0.91,"y":-0.06},{"s":"Free","x":0.94,"y":-0.05},
      {"s":"Free","x":0.97,"y":-0.07},{"s":"Free","x":1.02,"y":-0.05},{"s":"Free","x":1.05,"y":-0.06},{"s":"Free","x":1.08,"y":-0.04},
      {"s":"Free","x":1.11,"y":-0.06},
      {"s":"Free","x":0.73,"y":-0.1},{"s":"Free","x":0.76,"y":-0.11},{"s":"Free","x":0.79,"y":-0.09},{"s":"Free","x":0.81,"y":-0.11},
      {"s":"Free","x":0.85,"y":-0.1},{"s":"Free","x":0.89,"y":-0.12},{"s":"Free","x":0.92,"y":-0.1},{"s":"Free","x":0.96,"y":-0.1},
      {"s":"Free","x":1.02,"y":-0.1},{"s":"Free","x":1.06,"y":-0.12},{"s":"Free","x":1.1,"y":-0.09},
      {"s":"Free","x":0.75,"y":-0.16},{"s":"Free","x":0.78,"y":-0.14},{"s":"Free","x":0.81,"y":-0.15},{"s":"Free","x":0.84,"y":-0.16},
      {"s":"Free","x":0.87,"y":-0.15},{"s":"Free","x":0.9,"y":-0.15},{"s":"Free","x":0.93,"y":-0.16},{"s":"Free","x":0.97,"y":-0.16},
      {"s":"Free","x":1.02,"y":-0.15},{"s":"Free","x":1.06,"y":-0.15},
      {"s":"Free","x":0.77,"y":-0.2},{"s":"Free","x":0.82,"y":-0.21},{"s":"Free","x":0.86,"y":-0.2},{"s":"Free","x":0.9,"y":-0.21},
      {"s":"Free","x":0.95,"y":-0.2},{"s":"Free","x":1.01,"y":-0.21},
      {"s":"Constrained","x":0.597,"y":1.141},{"s":"Constrained","x":-0.325,"y":0.799},{"s":"Constrained","x":-0.304,"y":0.667},
      {"s":"Constrained","x":-0.246,"y":0.685},{"s":"Constrained","x":0.136,"y":0.777},{"s":"Constrained","x":0.103,"y":0.695},
      {"s":"Constrained","x":-0.043,"y":0.493},{"s":"Constrained","x":0.103,"y":0.45},{"s":"Constrained","x":-0.351,"y":0.121},
      {"s":"Constrained","x":0.2,"y":0.125},{"s":"Constrained","x":0.394,"y":0.306},{"s":"Constrained","x":0.511,"y":0.284},
      {"s":"Constrained","x":0.556,"y":0.745},{"s":"Constrained","x":0.679,"y":0.676},{"s":"Constrained","x":0.724,"y":0.547},
      {"s":"Constrained","x":0.748,"y":0.618},{"s":"Constrained","x":0.728,"y":0.654},{"s":"Constrained","x":1.0,"y":-0.431},
      {"s":"Constrained","x":0.788,"y":-0.6157},{"s":"Constrained","x":0.8387,"y":-0.5446},{"s":"Constrained","x":0.8572,"y":-0.515},
      {"s":"Constrained","x":0.866,"y":-0.5},{"s":"Constrained","x":0.8746,"y":-0.4848},{"s":"Constrained","x":0.8829,"y":-0.4695},
      {"s":"Constrained","x":0.8988,"y":-0.4384},{"s":"Constrained","x":0.9135,"y":-0.4067},{"s":"Constrained","x":0.9205,"y":-0.3907},
      {"s":"Constrained","x":0.9272,"y":-0.3746},{"s":"Constrained","x":0.9336,"y":-0.3584},{"s":"Constrained","x":0.9397,"y":-0.342},
      {"s":"Constrained","x":0.9455,"y":-0.3256},{"s":"Constrained","x":0.9511,"y":-0.309},{"s":"Constrained","x":0.9563,"y":-0.2924},
      {"s":"Constrained","x":0.9613,"y":-0.2756},{"s":"Constrained","x":0.9659,"y":-0.2588},{"s":"Constrained","x":0.9703,"y":-0.2419},
      {"s":"Constrained","x":0.9744,"y":-0.225},{"s":"Constrained","x":0.9781,"y":-0.2079},{"s":"Constrained","x":0.9816,"y":-0.1908},
      {"s":"Constrained","x":0.9848,"y":-0.1736},{"s":"Constrained","x":0.9877,"y":-0.1564},{"s":"Constrained","x":0.9903,"y":-0.1392},
      {"s":"Constrained","x":0.9925,"y":-0.1219},{"s":"Constrained","x":0.9945,"y":-0.1045},{"s":"Constrained","x":0.9962,"y":-0.0872},
      {"s":"Constrained","x":0.9976,"y":-0.0698},{"s":"Constrained","x":0.9986,"y":-0.0523},{"s":"Constrained","x":0.9994,"y":-0.0349},
      {"s":"Constrained","x":0.9998,"y":-0.0175},{"s":"Constrained","x":1.0,"y":0.0},{"s":"Constrained","x":0.9998,"y":0.0175},
      {"s":"Constrained","x":0.9994,"y":0.0349},{"s":"Constrained","x":0.9986,"y":0.0523},{"s":"Constrained","x":0.9976,"y":0.0698},
      {"s":"Constrained","x":0.9962,"y":0.0872},{"s":"Constrained","x":0.9945,"y":0.1045},{"s":"Constrained","x":0.9925,"y":0.1219},
      {"s":"Constrained","x":0.9903,"y":0.1392},{"s":"Constrained","x":0.9877,"y":0.1564},{"s":"Constrained","x":0.9848,"y":0.1736},
      {"s":"Constrained","x":0.9816,"y":0.1908},{"s":"Constrained","x":0.9781,"y":0.2079},{"s":"Constrained","x":0.9744,"y":0.225},
      {"s":"Constrained","x":0.9703,"y":0.2419},{"s":"Constrained","x":0.9659,"y":0.2588},{"s":"Constrained","x":0.9613,"y":0.2756},
      {"s":"Constrained","x":0.9563,"y":0.2924},{"s":"Constrained","x":0.9511,"y":0.309},{"s":"Constrained","x":0.9455,"y":0.3256},
      {"s":"Constrained","x":0.9397,"y":0.342},{"s":"Constrained","x":0.9336,"y":0.3584},{"s":"Constrained","x":0.9272,"y":0.3746},
      {"s":"Constrained","x":0.9205,"y":0.3907},{"s":"Constrained","x":0.9135,"y":0.4067},{"s":"Constrained","x":0.9063,"y":0.4226},
      {"s":"Constrained","x":0.8988,"y":0.4384},{"s":"Constrained","x":0.891,"y":0.454},{"s":"Constrained","x":0.8829,"y":0.4695},
      {"s":"Constrained","x":0.8746,"y":0.4848},{"s":"Constrained","x":0.866,"y":0.5},{"s":"Constrained","x":0.8572,"y":0.515},
      {"s":"Constrained","x":0.848,"y":0.5299},{"s":"Constrained","x":0.8387,"y":0.5446},{"s":"Constrained","x":0.829,"y":0.5592},
      {"s":"Constrained","x":0.809,"y":0.5878},{"s":"Constrained","x":0.7934,"y":0.6088},{"s":"Constrained","x":0.7771,"y":0.6293},
      {"s":"Constrained","x":0.7547,"y":0.6561},{"s":"Constrained","x":0.7133,"y":0.7009},{"s":"Constrained","x":0.7009,"y":0.7133}
    ]
  },
  "layer": [
    {
      "data": {"name": "circle"},
      "mark": {"type": "line", "color": "#4878d0", "strokeWidth": 10, "clip": true},
      "encoding": {
        "x": {"field": "x", "type": "quantitative"},
        "y": {"field": "y", "type": "quantitative"},
        "order": {"field": "a", "type": "quantitative"}
      }
    },
    {
      "data": {"name": "pts"},
      "mark": {"type": "point", "shape": "circle", "filled": true, "opacity": 1, "size": 484, "strokeWidth": 0, "clip": true},
      "encoding": {
        "x": {"field": "x", "type": "quantitative"},
        "y": {"field": "y", "type": "quantitative"},
        "color": {
          "field": "s",
          "type": "nominal",
          "scale": {"domain": ["Free", "Constrained"], "range": ["#ee854a", "#4878d0"]},
          "legend": {
            "title": null,
            "orient": "none",
            "direction": "horizontal",
            "legendX": 149,
            "legendY": -202,
            "padding": 45,
            "fillColor": "white",
            "strokeColor": "#d4d4d4",
            "cornerRadius": 14,
            "symbolType": "circle",
            "symbolSize": 484,
            "symbolStrokeWidth": 0,
            "symbolOffset": 48,
            "labelOffset": 134,
            "columnPadding": 213,
            "labelFont": "Liberation Serif",
            "labelFontSize": 104,
            "labelColor": "black",
            "labelLimit": 1000
          }
        }
      }
    }
  ],
  "encoding": {
    "x": {
      "field": "x",
      "type": "quantitative",
      "title": "x [m]",
      "scale": {"domain": [-1.252, 1.501], "nice": false, "zero": false},
      "axis": {"values": [-1, 0, 1], "format": "d", "labelPadding": 6, "titlePadding": 21}
    },
    "y": {
      "field": "y",
      "type": "quantitative",
      "title": "y [m]",
      "scale": {"domain": [-1.248, 1.251], "nice": false, "zero": false},
      "axis": {"values": [-1, -0.5, 0, 0.5, 1], "format": ".1f", "labelPadding": 40, "titlePadding": 76}
    }
  },
  "config": {
    "view": {"stroke": "black", "strokeWidth": 5},
    "legend": {"strokeWidth": 5},
    "axis": {
      "domain": false,
      "grid": true,
      "gridColor": "#cccccc",
      "gridWidth": 1.2,
      "ticks": true,
      "tickColor": "black",
      "tickWidth": 4.5,
      "tickSize": 21,
      "labelFont": "Liberation Serif",
      "labelFontSize": 104,
      "labelColor": "black",
      "labelLimit": 500,
      "titleFont": "Liberation Serif",
      "titleFontSize": 104,
      "titleFontWeight": "normal",
      "titleColor": "black"
    }
  }
}
